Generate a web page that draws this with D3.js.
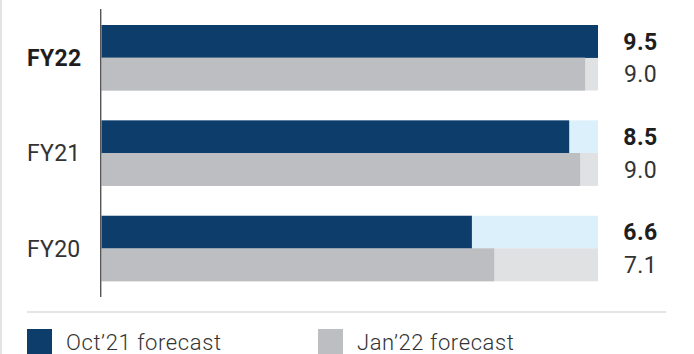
<!DOCTYPE html>
<html>
<head>
<meta charset="utf-8">
<script src="https://cdn.jsdelivr.net/npm/d3@7"></script>
<style>
  body { margin: 0; background: #fff; }
  svg { display: block; font-family: Roboto, "Liberation Sans", sans-serif; }
</style>
</head>
<body>
<div id="chart"></div>
<script>
// data
var years = ["FY22", "FY21", "FY20"];
var oct21Labels = ["9.5", "8.5", "6.6"];
var jan22Labels = ["9.0", "9.0", "7.1"];
// bar lengths as share of the full track (%), as drawn in the original
var oct21Bar = [100, 94.2, 74.6];
var jan22Bar = [97.4, 96.4, 79.1];
var seriesNames = ["Oct\u201921 forecast", "Jan\u201922 forecast"];

var width = 694, height = 354;
var navy = "#0d3d6b", grey = "#bdbec1";
var navyTrack = "#dbf0fb", greyTrack = "#e0e1e3";

var svg = d3.select("#chart").append("svg")
  .attr("width", width)
  .attr("height", height);

// thin frame line at the left edge
svg.append("line")
  .attr("x1", 1).attr("x2", 1).attr("y1", 0).attr("y2", height)
  .attr("stroke", "#d0d0d0").attr("stroke-width", 1.2);

var x = d3.scaleLinear().domain([0, 100]).range([101.5, 598]);

var y = d3.scaleBand().domain(years).range([25, 281]).paddingInner(30 / 95).paddingOuter(0);
var sub = d3.scaleBand().domain([0, 1]).range([0, y.bandwidth()]);

var rows = years.map(function(yr, i) {
  return { year: yr, bars: [
    { s: 0, v: oct21Bar[i], label: oct21Labels[i] },
    { s: 1, v: jan22Bar[i], label: jan22Labels[i] }
  ] };
});

var g = svg.selectAll("g.row").data(rows).enter().append("g")
  .attr("class", "row")
  .attr("transform", function(d) { return "translate(0," + y(d.year) + ")"; });

// background tracks
g.selectAll("rect.track").data(function(d) { return d.bars; }).enter().append("rect")
  .attr("class", "track")
  .attr("x", x(0))
  .attr("y", function(d) { return sub(d.s); })
  .attr("width", x(100) - x(0))
  .attr("height", sub.bandwidth() + 0.3)
  .attr("fill", function(d) { return d.s === 0 ? navyTrack : greyTrack; });

// value bars
g.selectAll("rect.bar").data(function(d) { return d.bars; }).enter().append("rect")
  .attr("class", "bar")
  .attr("x", x(0))
  .attr("y", function(d) { return sub(d.s); })
  .attr("width", function(d) { return x(d.v) - x(0); })
  .attr("height", sub.bandwidth() + 0.3)
  .attr("fill", function(d) { return d.s === 0 ? navy : grey; });

// value labels
g.selectAll("text.val").data(function(d) { return d.bars; }).enter().append("text")
  .attr("class", "val")
  .attr("x", 640.5)
  .attr("y", function(d) { return sub(d.s) + sub.bandwidth() / 2; })
  .attr("dy", "0.36em")
  .attr("text-anchor", "middle")
  .attr("font-size", 23)
  .attr("font-weight", function(d) { return d.s === 0 ? 700 : 400; })
  .attr("letter-spacing", 0.4)
  .attr("fill", function(d) { return d.s === 0 ? "#1e1e1e" : "#333"; })
  .text(function(d) { return d.label; });

// category labels
g.append("text")
  .attr("x", 27)
  .attr("y", y.bandwidth() / 2)
  .attr("dy", "0.36em")
  .attr("font-size", 23)
  .attr("font-weight", function(d, i) { return i === 0 ? 700 : 400; })
  .attr("letter-spacing", 0.3)
  .attr("fill", function(d, i) { return i === 0 ? "#1e1e1e" : "#333"; })
  .text(function(d) { return d.year; });

// vertical axis line
svg.append("line")
  .attr("x1", 100.7).attr("x2", 100.7).attr("y1", 9).attr("y2", 297)
  .attr("stroke", "#555").attr("stroke-width", 1.4);

// separator above legend
svg.append("line")
  .attr("x1", 27).attr("x2", 666).attr("y1", 312).attr("y2", 312)
  .attr("stroke", "#dcdcdc").attr("stroke-width", 1.5);

// legend
var legX = [27, 318];
var leg = svg.selectAll("g.leg").data(seriesNames).enter().append("g")
  .attr("class", "leg")
  .attr("transform", function(d, i) { return "translate(" + legX[i] + ",329)"; });

leg.append("rect")
  .attr("width", 25).attr("height", 26)
  .attr("fill", function(d, i) { return i === 0 ? navy : grey; });

leg.append("text")
  .attr("x", 39)
  .attr("y", 21)
  .attr("font-size", 22)
  .attr("font-weight", 300)
  .attr("letter-spacing", 0.6)
  .attr("fill", "#333")
  .text(function(d) { return d; });
</script>
</body>
</html>
